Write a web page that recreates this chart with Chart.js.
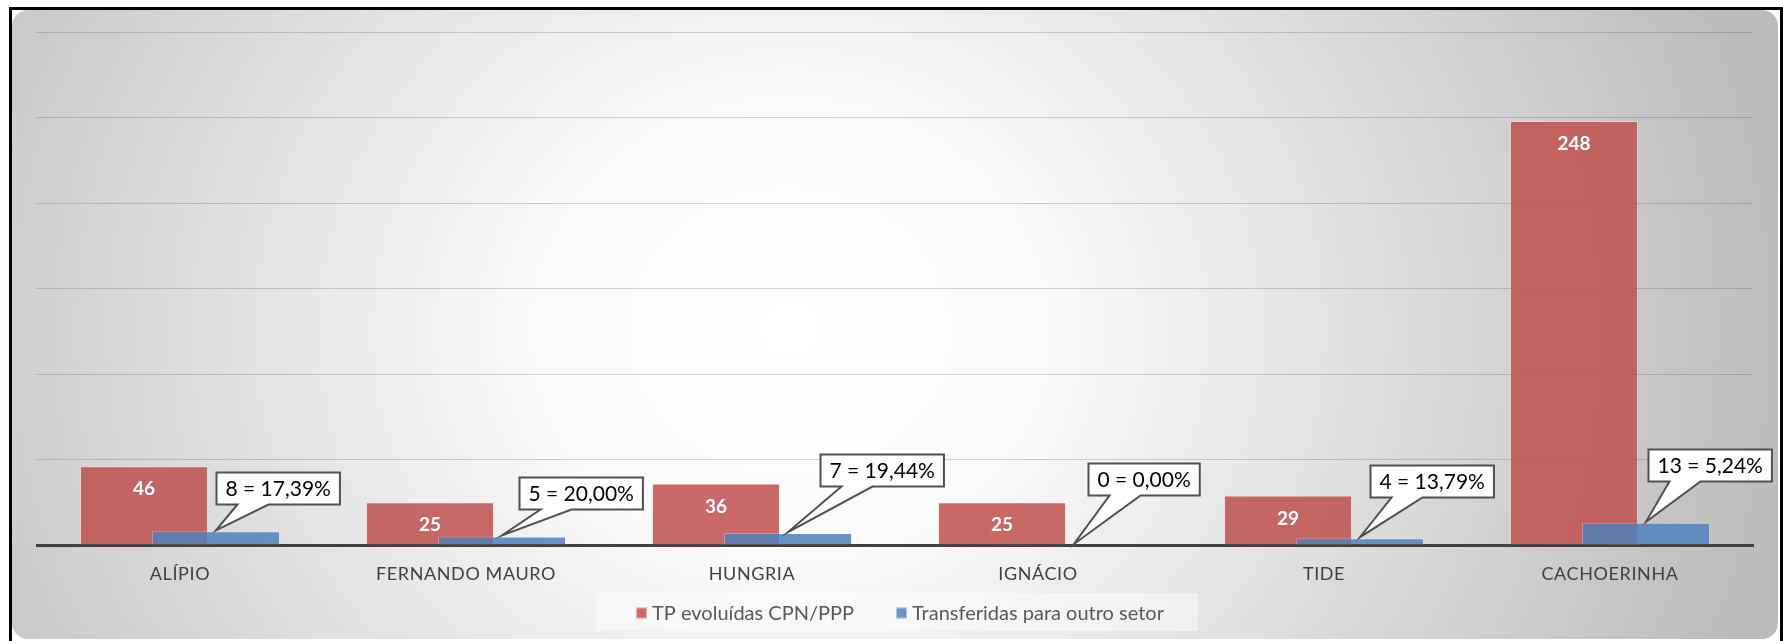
<!DOCTYPE html>
<html>
<head>
<meta charset="utf-8">
<script src="https://cdn.jsdelivr.net/npm/chart.js@4.4.1/dist/chart.umd.min.js"></script>
<style>
  html, body { margin: 0; padding: 0; background: #fff; }
  #wrap { width: 1783px; height: 641px; }
</style>
</head>
<body>
<div id="wrap"><canvas id="chart" width="1783" height="641"></canvas></div>
<script>
// Dados do gráfico
const categories = ['ALÍPIO', 'FERNANDO MAURO', 'HUNGRIA', 'IGNÁCIO', 'TIDE', 'CACHOERINHA'];
const evolvedTP = [46, 25, 36, 25, 29, 248];
const transferred = [8, 5, 7, 0, 4, 13];
const seriesNames = ['TP evoluídas CPN/PPP', 'Transferidas para outro setor'];
const yTicks = [0, 50, 100, 150, 200, 250, 300];

// Callout layout: offset of box left / box bottom from the pointer tip
const calloutOffsets = [[0, -26], [17, -26], [32, -46], [14, -49], [10, -40], [2, -41]];

const RED = 'rgba(192, 80, 77, 0.85)';
const BLUE = 'rgba(79, 129, 189, 0.85)';
const FONT = "Lato, 'Noto Sans', sans-serif";

// Fundo: painel cinza com gradiente radial + moldura preta
const backdrop = {
  id: 'backdrop',
  beforeDraw(chart) {
    const ctx = chart.ctx;
    const W = chart.width, H = chart.height;
    ctx.save();
    ctx.fillStyle = '#fff';
    ctx.fillRect(0, 0, W, H);
    ctx.beginPath();
    ctx.roundRect(12, 10, W - 17, H - 12, 16);
    ctx.clip();
    ctx.translate(790, 330);
    ctx.scale(1, 0.9);
    const g = ctx.createRadialGradient(0, 0, 0, 0, 0, 1000);
    g.addColorStop(0, '#ffffff');
    g.addColorStop(0.25, '#fafafa');
    g.addColorStop(1, '#bcbcbc');
    ctx.fillStyle = g;
    ctx.fillRect(-1000, -1000, 2000, 2000);
    ctx.restore();

    ctx.save();
    ctx.fillStyle = '#000';
    ctx.fillRect(9, 7, 3, H - 7);
    ctx.fillRect(9, 7, W - 9, 3);
    ctx.fillRect(W - 3, 7, 3, H - 7);
    ctx.restore();
    // espaçamento das letras dos rótulos do eixo x
    ctx.letterSpacing = '0.6px';
  },
  beforeDatasetsDraw(chart) {
    chart.ctx.letterSpacing = '0px';
  }
};

// Legenda desenhada à mão (caixa clara no rodapé)
const legendBox = {
  id: 'legendBox',
  afterDraw(chart) {
    const ctx = chart.ctx;
    const sq = 11, gap = 5, spacing = 42;
    ctx.save();
    ctx.font = '20px ' + FONT;
    const items = chart.data.datasets.map(ds => ({
      text: ds.label, color: ds.backgroundColor, w: ctx.measureText(ds.label).width
    }));
    const total = items.reduce((s, it) => s + sq + gap + it.w, 0) + spacing * (items.length - 1);
    const cx = (chart.chartArea.left + chart.chartArea.right) / 2 + 5;
    const cy = 613;
    let x = cx - total / 2;

    ctx.fillStyle = 'rgba(255, 255, 255, 0.45)';
    ctx.fillRect(x - 40, 593, total + 74, 38);

    ctx.textBaseline = 'middle';
    items.forEach(it => {
      ctx.fillStyle = it.color;
      ctx.fillRect(x, cy - sq / 2, sq, sq);
      ctx.strokeStyle = 'rgba(255,255,255,0.5)';
      ctx.lineWidth = 1;
      ctx.strokeRect(x + 0.5, cy - sq / 2 + 0.5, sq - 1, sq - 1);
      ctx.fillStyle = '#595959';
      ctx.fillText(it.text, x + sq + gap, cy + 1);
      x += sq + gap + it.w + spacing;
    });
    ctx.restore();
  }
};

function drawCallout(ctx, tipX, tipY, off, text) {
  ctx.font = '21px ' + FONT;
  const w = ctx.measureText(text).width + 18;
  const h = 32;
  const x = Math.round(tipX + off[0]) + 0.5;
  const bottom = Math.round(tipY + off[1]) + 0.5;
  const y = bottom - h;
  ctx.beginPath();
  ctx.moveTo(x, y);
  ctx.lineTo(x + w, y);
  ctx.lineTo(x + w, bottom);
  ctx.lineTo(x + 52, bottom);
  ctx.lineTo(tipX, tipY);
  ctx.lineTo(x + 21, bottom);
  ctx.lineTo(x, bottom);
  ctx.closePath();
  ctx.fillStyle = '#fff';
  ctx.fill();
  ctx.strokeStyle = '#505050';
  ctx.lineWidth = 2;
  ctx.stroke();
  ctx.fillStyle = '#000';
  ctx.textAlign = 'center';
  ctx.textBaseline = 'middle';
  ctx.fillText(text, x + w / 2, y + h / 2 + 1);
}

// Barras azuis por cima das vermelhas; rótulos e balões
const valueLabels = {
  id: 'valueLabels',
  beforeDatasetDraw(chart, args) {
    if (args.index === 1) return false;
  },
  afterDatasetsDraw(chart) {
    const ctx = chart.ctx;
    const redMeta = chart.getDatasetMeta(0);
    const blueMeta = chart.getDatasetMeta(1);
    blueMeta.controller.draw();

    ctx.save();
    ctx.font = 'bold 19px ' + FONT;
    ctx.fillStyle = '#fff';
    ctx.textAlign = 'center';
    ctx.textBaseline = 'middle';
    redMeta.data.forEach((bar, i) => {
      ctx.fillText(String(evolvedTP[i]), bar.x, bar.y + 23);
    });
    blueMeta.data.forEach((bar, i) => {
      const pct = (transferred[i] / evolvedTP[i] * 100).toFixed(2).replace('.', ',');
      const text = transferred[i] + ' = ' + pct + '%';
      ctx.save();
      drawCallout(ctx, bar.x, bar.y - 1, calloutOffsets[i], text);
      ctx.restore();
    });
    ctx.restore();
  }
};

const chart = new Chart(document.getElementById('chart'), {
  type: 'bar',
  data: {
    labels: categories,
    datasets: [
      {
        label: seriesNames[0],
        data: evolvedTP,
        backgroundColor: RED,
        borderColor: 'rgba(255, 255, 255, 0.3)',
        borderWidth: 1,
        categoryPercentage: 0.5035,
        barPercentage: 1.78
      },
      {
        label: seriesNames[1],
        data: transferred,
        backgroundColor: BLUE,
        borderColor: 'rgba(255, 255, 255, 0.3)',
        borderWidth: 1,
        categoryPercentage: 0.5035,
        barPercentage: 1.78
      }
    ]
  },
  options: {
    responsive: false,
    animation: false,
    devicePixelRatio: 1,
    layout: { padding: { left: 37, right: 30, top: 32, bottom: 0 } },
    plugins: {
      legend: { display: false },
      tooltip: { enabled: false }
    },
    scales: {
      x: {
        grid: { display: false },
        border: { display: true, color: '#404040', width: 3 },
        ticks: {
          color: '#404040',
          padding: 10,
          font: { family: FONT, size: 18 }
        },
        afterFit(scale) { scale.height = 96; }
      },
      y: {
        min: yTicks[0],
        max: yTicks[yTicks.length - 1],
        ticks: { display: false, stepSize: yTicks[1] - yTicks[0] },
        grid: { color: 'rgba(0, 0, 0, 0.16)', lineWidth: 1, drawTicks: false },
        border: { display: false },
        afterFit(scale) { scale.width = 0; }
      }
    }
  },
  plugins: [backdrop, valueLabels, legendBox]
});
</script>
</body>
</html>
